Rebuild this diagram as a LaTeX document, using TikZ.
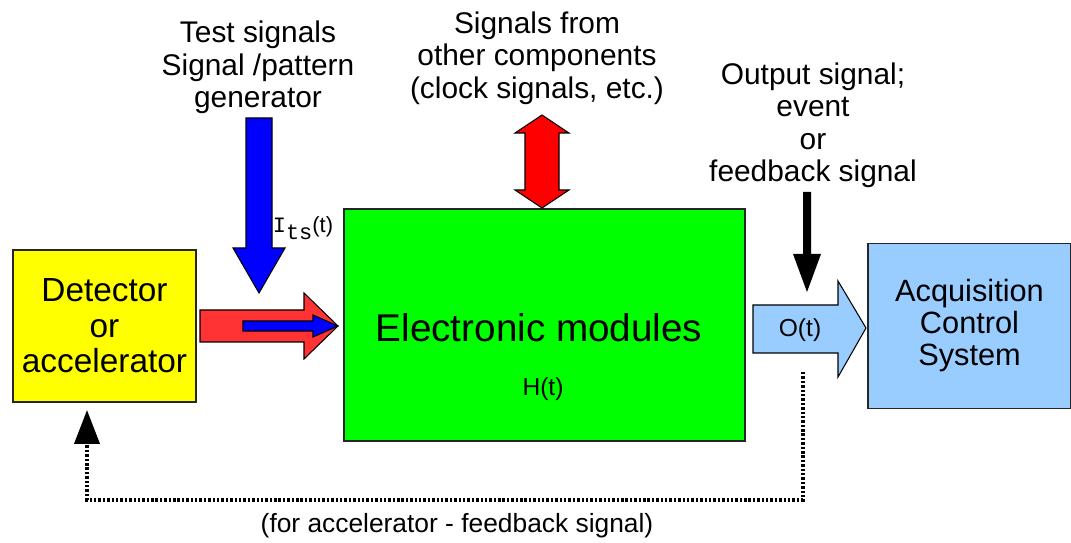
\documentclass[tikz,border=0pt]{standalone}
\usepackage{fontspec}
\setmainfont{Liberation Sans}
\newfontfamily\monolabel{Liberation Mono}
\usetikzlibrary{positioning}
\usetikzlibrary{arrows.meta}
\usepackage{xcolor}
\definecolor{detyellow}{HTML}{FFFF00}
\definecolor{modgreen}{HTML}{00FF00}
\definecolor{acqblue}{HTML}{99CCFF}
\definecolor{sigred}{HTML}{FF3333}
\definecolor{clkred}{HTML}{FF0000}

\begin{document}
\begin{tikzpicture}[x=0.02cm, y=-0.02cm,
  box/.style={draw=black!85, line width=0.8pt, inner sep=0pt, align=center},
  fatarrow/.style={draw=black, line width=0.6pt, line join=miter},
  caption/.style={align=center, font=\fontsize{17}{18.5}\selectfont},
  smalllabel/.style={inner sep=0pt, font=\fontsize{14}{15}\selectfont},
  fbline/.style={line width=2.2pt, dash pattern=on 1.4pt off 1.1pt,
    -{Triangle[length=0.68cm,width=0.5cm]}}]
  \useasboundingbox (0,0) rectangle (1071,543);

  % the three blocks
  \node[box, fill=detyellow, minimum width=3.66cm, minimum height=3.04cm,
    font=\fontsize{19}{20.2}\selectfont] (det) at (104.5,326) {Detector\\or\\accelerator};
  \node[box, fill=modgreen, minimum width=8.02cm, minimum height=4.64cm] (mod) at (544.5,325) {};
  \node[box, fill=acqblue, minimum width=4.06cm, minimum height=3.3cm,
    font=\fontsize{17.5}{18.2}\selectfont] (acq) at (969.5,326) {Acquisition\\Control\\System};
  \node[font=\fontsize{22}{24}\selectfont] (modtext) at (539,328) {Electronic modules};
  \node[smalllabel] (ht) at (543,389) {H(t)};

  % captions on top
  \node[caption] (testsig) at (258,67.5) {Test signals\\Signal /pattern\\generator};
  \node[caption] (others) at (537,58) {Signals from\\other components\\(clock signals, etc.)};
  \node[caption] (outsig) at (813,125.5) {Output signal;\\event\\or\\feedback signal};

  % input arrows
  \filldraw[fatarrow, fill=sigred] (200,310) -- (304,310) -- (304,293) -- (338,326)
    -- (304,359) -- (304,342) -- (200,342) -- cycle;
  \filldraw[fatarrow, fill=blue] (243,321) -- (313,321) -- (313,315) -- (338,326)
    -- (313,337) -- (313,331) -- (243,331) -- cycle;
  \filldraw[fatarrow, fill=blue] (246,118) -- (272,118) -- (272,248) -- (285,248)
    -- (259,293) -- (233,248) -- (246,248) -- cycle;
  \node[smalllabel, font=\fontsize{12.5}{14}\selectfont] (its) at (303,228)
    {{\monolabel I}\raisebox{-0.55ex}{\monolabel ts}(t)};

  % clock signals
  \filldraw[fatarrow, fill=clkred] (525,133) -- (515,133) -- (542,115) -- (569,133)
    -- (559,133) -- (559,190) -- (569,190) -- (542,208) -- (515,190) -- (525,190) -- cycle;

  % output
  \filldraw[fatarrow, fill=acqblue] (753,305) -- (838,305) -- (838,281) -- (866,328)
    -- (838,377) -- (838,353) -- (753,353) -- cycle;
  \node[smalllabel] (ot) at (800,330) {O(t)};
  \fill (803,192) -- (811,192) -- (811,254) -- (821,254) -- (807,292) -- (793,254)
    -- (803,254) -- cycle;

  % feedback loop
  \coordinate (fbout) at (803,372);
  \coordinate (fbcorner) at (803,500);
  \coordinate (fbin) at (87,410);
  \draw[fbline] (fbout) -- (fbcorner) -| (fbin);
  \node[font=\fontsize{15}{16}\selectfont] (fbtext) at (457,526) {(for accelerator - feedback signal)};
\end{tikzpicture}
\end{document}
